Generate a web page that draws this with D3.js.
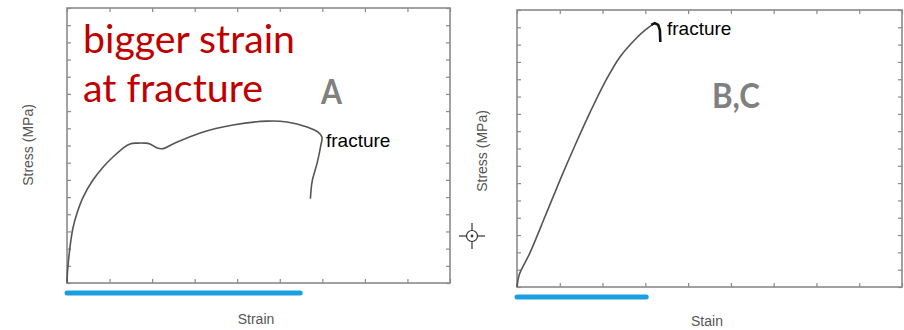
<!DOCTYPE html>
<html><head><meta charset="utf-8">
<script src="https://cdn.jsdelivr.net/npm/d3@7"></script>
<style>body{margin:0;background:#fff}svg{display:block}</style>
</head><body>
<svg id="c" width="904" height="330"></svg>
<script>
// ---- data ----
const xTicks = [0,1,2,3,4,5,6,7,8,9];
const yTicks = d3.range(0,17);
// Panel A curve (strain, stress) in axis units
const curveA_x = [0,0.01,0.03,0.07,0.14,0.24,0.38,0.61,0.85,1.08,1.32,1.48,1.65,1.83,1.95,2.12,2.26,2.49,3.13,3.90,4.70,5.17,5.64,5.90,5.99,5.96,5.88,5.76,5.72];
const curveA_y = [0,0.58,1.16,2.09,3.20,4.10,5.00,5.99,6.75,7.33,7.85,8.09,8.14,8.14,8.09,7.85,7.82,8.09,8.73,9.19,9.42,9.37,9.08,8.78,8.49,7.95,7.0,5.9,4.9];
// Panel B,C curve
const curveB_x = [0,0.05,0.30,0.66,1.01,1.36,1.71,2.06,2.41,2.76,3.00,3.16];
const curveB_y = [0,0.70,1.96,4.10,6.20,8.20,10.10,11.85,13.30,14.30,14.85,15.14];
// fracture hook on panel B,C
const hookB_x = [3.14,3.22,3.30,3.34,3.35];
const hookB_y = [15.14,15.24,15.14,14.85,14.15];
// strain-range bars
const barA = [0,5.48];
const barB = [0,3.02];

const svg = d3.select("#c");

function panel(cfg){
  const x = d3.scaleLinear().domain([0,9]).range([cfg.x0,cfg.x1]);
  const y = d3.scaleLinear().domain([0,16]).range([cfg.y0,cfg.y1]);
  const g = svg.append("g");
  const stroke="#8a8a8a";
  const style = a=>{a.select(".domain").remove();a.selectAll("line").attr("stroke",stroke).attr("stroke-width",1.2);};
  g.append("g").attr("transform",`translate(0,${cfg.y0})`)
    .call(d3.axisBottom(x).tickValues(xTicks).tickSize(-4).tickFormat("")).call(style);
  g.append("g").attr("transform",`translate(0,${cfg.y1})`)
    .call(d3.axisTop(x).tickValues(xTicks).tickSize(-4).tickFormat("")).call(style);
  g.append("g").attr("transform",`translate(${cfg.x0},0)`)
    .call(d3.axisLeft(y).tickValues(yTicks).tickSize(-4).tickFormat("")).call(style);
  g.append("g").attr("transform",`translate(${cfg.x1},0)`)
    .call(d3.axisRight(y).tickValues(yTicks).tickSize(-4).tickFormat("")).call(style);
  g.append("rect").attr("x",cfg.x0).attr("y",cfg.y1)
    .attr("width",cfg.x1-cfg.x0).attr("height",cfg.y0-cfg.y1)
    .attr("fill","none").attr("stroke",stroke).attr("stroke-width",1.6);
  const line = d3.line().x(d=>x(d[0])).y(d=>y(d[1])).curve(d3.curveCatmullRom.alpha(0.5));
  g.append("path").datum(d3.zip(cfg.cx,cfg.cy)).attr("d",line)
    .attr("fill","none").attr("stroke","#555").attr("stroke-width",1.6);
  if(cfg.hx){
    g.append("path").datum(d3.zip(cfg.hx,cfg.hy)).attr("d",d3.line().x(d=>x(d[0])).y(d=>y(d[1])))
      .attr("fill","none").attr("stroke","#111").attr("stroke-width",2.6).attr("stroke-linejoin","round");
  }
  g.append("line").attr("x1",x(cfg.bar[0])).attr("x2",x(cfg.bar[1]))
    .attr("y1",cfg.barY).attr("y2",cfg.barY)
    .attr("stroke","#1aa0e0").attr("stroke-width",5).attr("stroke-linecap","round");
  // axis titles
  g.append("text").attr("transform",`translate(${cfg.ylx},${cfg.yly}) rotate(-90)`)
    .attr("text-anchor","middle").attr("font-family","Liberation Sans, Arial, sans-serif")
    .attr("font-size",14).attr("fill","#555").text("Stress (MPa)");
  g.append("text").attr("x",cfg.xlx).attr("y",cfg.xly)
    .attr("text-anchor","middle").attr("font-family","Liberation Sans, Arial, sans-serif")
    .attr("font-size",14).attr("fill","#555").text(cfg.xlabel);
  return {x,y,g};
}

panel({x0:67,x1:450,y0:283,y1:8,cx:curveA_x,cy:curveA_y,bar:barA,barY:293,
  ylx:33,yly:145,xlx:256,xly:324,xlabel:"Strain"});
panel({x0:517,x1:902,y0:287,y1:10,cx:curveB_x,cy:curveB_y,hx:hookB_x,hy:hookB_y,bar:barB,barY:297,
  ylx:487,yly:151,xlx:707,xly:326,xlabel:"Stain"});

// annotations
const lab = (t,x,y,o)=>svg.append("text").attr("x",x).attr("y",y).text(t)
  .attr("font-family",o.f||"Liberation Sans, Arial, sans-serif").attr("font-size",o.s)
  .attr("fill",o.c||"#000").attr("font-weight",o.w||"normal")
  .call(s=>{if(o.len) s.attr("textLength",o.len).attr("lengthAdjust","spacingAndGlyphs");});
lab("bigger strain",83,53,{s:38,c:"#c00000",f:"Lato, sans-serif",len:212});
lab("at fracture",83,102,{s:38,c:"#c00000",f:"Lato, sans-serif",len:180});
lab("A",321,104,{s:35,c:"#808080",w:"bold",f:"Lato, sans-serif",len:21});
lab("B,C",712,108,{s:34,c:"#808080",w:"bold",f:"Lato, sans-serif",len:48});
lab("fracture",326,147,{s:19});
lab("fracture",667,35,{s:19});

// crosshair glyph
const ch = svg.append("g").attr("transform","translate(472,236)").attr("stroke","#333").attr("stroke-width",1.2).attr("fill","none");
ch.append("circle").attr("r",5.5);
ch.append("circle").attr("r",0.8).attr("fill","#333");
ch.append("line").attr("x1",-13).attr("x2",-5.5);
ch.append("line").attr("x1",5.5).attr("x2",13);
ch.append("line").attr("y1",-13).attr("y2",-5.5);
ch.append("line").attr("y1",5.5).attr("y2",13);
</script>
</body></html>
